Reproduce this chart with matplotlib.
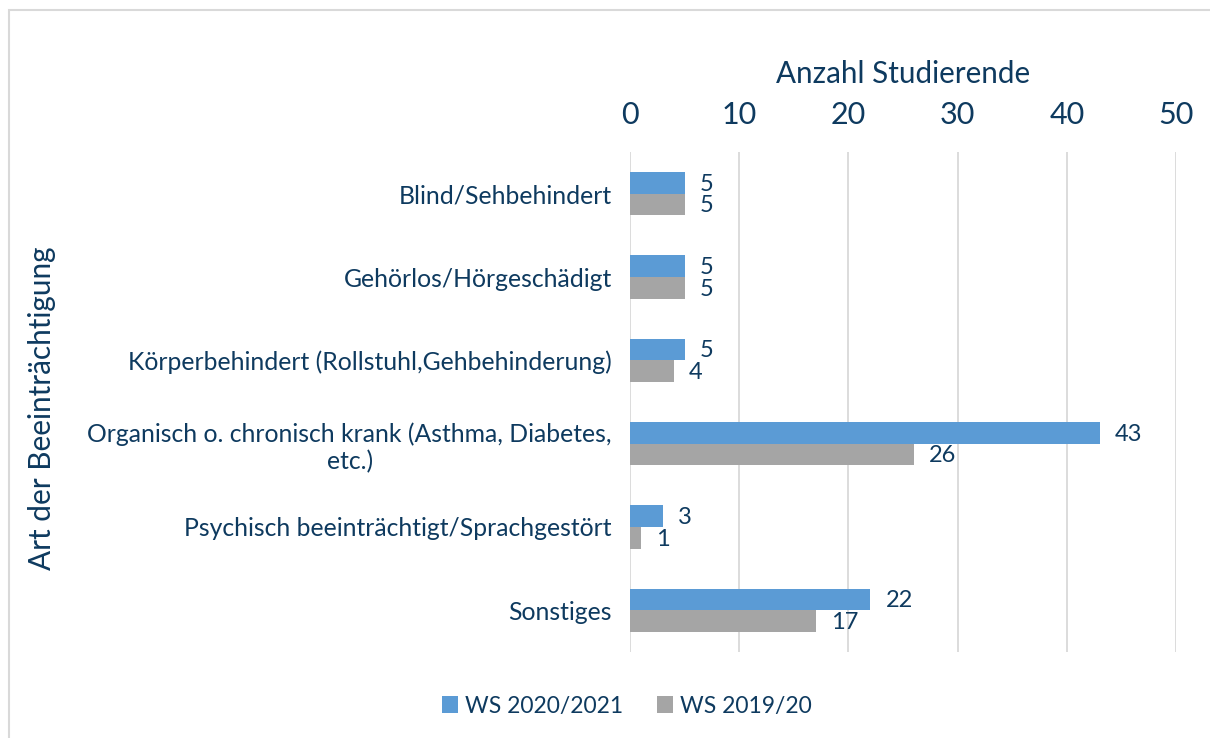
import numpy as np
from matplotlib import pyplot as plt
from matplotlib.patches import Rectangle

categories = [
    "Blind/Sehbehindert",
    "Gehörlos/Hörgeschädigt",
    "Körperbehindert (Rollstuhl,Gehbehinderung)",
    "Organisch o. chronisch krank (Asthma, Diabetes,\netc.)",
    "Psychisch beeinträchtigt/Sprachgestört",
    "Sonstiges",
]
ws2021 = [5, 5, 5, 43, 3, 22]
ws1920 = [5, 5, 4, 26, 1, 17]
series_names = ["WS 2020/2021", "WS 2019/20"]
xticks = [0, 10, 20, 30, 40, 50]

text_col = "#0E3A5F"
blue = "#5B9BD5"
gray = "#A5A5A5"

plt.rcParams['font.family'] = ['Lato', 'DejaVu Sans']

fig = plt.figure(figsize=(12.1, 7.38), dpi=100)
ax = fig.add_axes([630 / 1210, 1 - 652 / 738, 546 / 1210, 500 / 738])

# frame around the chart
fig.patches.append(Rectangle((9 / 1210, -0.1), 1.2, 1 - 10 / 738 + 0.1,
                             transform=fig.transFigure, fill=False,
                             edgecolor="#D9D9D9", linewidth=1.5))

y = np.arange(len(categories))
h = 0.26
b1 = ax.barh(y - h / 2, ws2021, height=h, color=blue, label=series_names[0], zorder=3)
b2 = ax.barh(y + h / 2, ws1920, height=h, color=gray, label=series_names[1], zorder=3)

for bars in (b1, b2):
    for bar in bars:
        w = bar.get_width()
        ax.annotate(str(int(w)), (w, bar.get_y() + bar.get_height() / 2),
                    xytext=(11, -1), textcoords="offset points",
                    va="center", ha="left", fontsize=17, color=text_col)

ax.set_xlim(0, 50)
ax.set_ylim(len(categories) - 0.5, -0.5)
ax.set_xticks(xticks)
ax.xaxis.tick_top()
ax.xaxis.set_label_position("top")
ax.tick_params(axis="x", length=0, pad=16.5, labelsize=22, labelcolor=text_col)
ax.set_yticks(y)
ax.set_yticklabels(categories, multialignment="center")
ax.tick_params(axis="y", length=0, pad=13, labelsize=17.8, labelcolor=text_col)
ax.set_xlabel("Anzahl Studierende", fontsize=21.3, color=text_col, labelpad=13)
ax.grid(axis="x", color="#D9D9D9", linewidth=1.3, zorder=0)
for s in ax.spines.values():
    s.set_visible(False)

fig.text(42 / 1210, 1 - 408 / 738, "Art der Beeinträchtigung", rotation=90,
         ha="center", va="center", fontsize=21.4, color=text_col)

leg = fig.legend(loc="center", bbox_to_anchor=(627 / 1210, 1 - 706 / 738), ncol=2,
                 frameon=False, fontsize=16.5, handlelength=0.7, handleheight=0.7,
                 handletextpad=0.3, columnspacing=1.5)
for t in leg.get_texts():
    t.set_color(text_col)

fig.savefig("out.png", dpi=100)
